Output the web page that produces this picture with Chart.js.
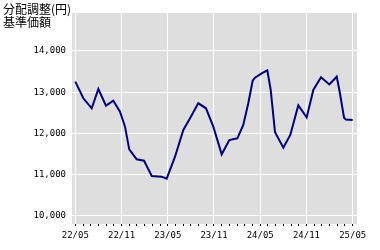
<!DOCTYPE html>
<html>
<head>
<meta charset="utf-8">
<script src="https://cdn.jsdelivr.net/npm/chart.js@4/dist/chart.umd.min.js"></script>
<style>
  body { margin: 0; background: #fff; }
  #wrap { position: relative; width: 380px; height: 250px; }
  #title {
    position: absolute; left: 3px; top: 2px;
    font: 12px/13px "Noto Sans CJK JP", sans-serif; color: #000;
  }
</style>
</head>
<body>
<div id="wrap">
  <canvas id="chart" width="380" height="250"></canvas>
  <div id="title">分配調整(円)<br>基準価額</div>
</div>
<script>
// months counted from 22/05
const months = [0, 1.04, 2.13, 2.99, 3.98, 4.93, 5.8, 6.45, 7.0, 7.97, 8.92, 9.92, 11.2, 11.86,
  12.94, 14.02, 14.89, 15.96, 16.96, 17.91, 19.0, 19.99, 21.03, 21.8, 22.45, 23.02, 23.32,
  24.19, 24.92, 25.36, 25.92, 27.0, 27.9, 28.94, 30.03, 30.89, 31.89, 32.97, 33.93, 34.27,
  34.88, 35.1, 36.0];
const navValues = [13256, 12853, 12611, 13079, 12674, 12796, 12529, 12165, 11616, 11374, 11341,
  10970, 10954, 10905, 11438, 12085, 12368, 12732, 12611, 12165, 11496, 11842, 11883, 12206,
  12732, 13280, 13353, 13459, 13530, 13055, 12030, 11656, 11964, 12680, 12390, 13055, 13362,
  13190, 13377, 13055, 12383, 12340, 12327];
const tickLabels = ['22/05', '22/11', '23/05', '23/11', '24/05', '24/11', '25/05'];
const yTicks = [10000, 11000, 12000, 13000, 14000];

const tickFont = { family: 'DejaVu Sans Mono', size: 9 };

// gray plot background
const plotBg = {
  id: 'plotBg',
  beforeDraw(chart) {
    const a = chart.chartArea, ctx = chart.ctx;
    ctx.save();
    ctx.fillStyle = '#dedede';
    ctx.fillRect(a.left, a.top, a.right - a.left, a.bottom - a.top);
    ctx.restore();
  }
};

new Chart(document.getElementById('chart'), {
  type: 'line',
  plugins: [plotBg],
  data: {
    datasets: [{
      data: months.map((m, i) => ({ x: m, y: navValues[i] })),
      borderColor: '#000080',
      borderWidth: 2,
      pointRadius: 0,
      tension: 0
    }]
  },
  options: {
    responsive: false,
    animation: false,
    devicePixelRatio: 1,
    layout: { padding: { left: 0, top: 13, right: 23, bottom: 0 } },
    plugins: { legend: { display: false }, tooltip: { enabled: false } },
    scales: {
      x: {
        type: 'linear',
        min: -0.43,
        max: 36.56,
        afterBuildTicks: s => { s.ticks = Array.from({ length: 37 }, (_, i) => ({ value: i })); },
        afterFit: s => { s.height = 26; },
        border: { display: false },
        grid: {
          color: c => (c.tick && c.tick.value % 6 === 0) ? '#ffffff' : 'rgba(0,0,0,0)',
          tickColor: '#000',
          tickLength: 2,
          lineWidth: 1
        },
        ticks: {
          autoSkip: false,
          maxRotation: 0,
          padding: 4,
          color: '#000',
          font: tickFont,
          callback: v => v % 6 === 0 ? tickLabels[v / 6] : ''
        }
      },
      y: {
        min: 9806,
        max: 14921,
        afterBuildTicks: s => { s.ticks = yTicks.map(v => ({ value: v })); },
        afterFit: s => { s.width = 72; },
        border: { display: false },
        grid: { color: '#ffffff', lineWidth: 1, drawTicks: false },
        ticks: {
          padding: 6,
          color: '#000',
          font: tickFont,
          callback: v => v.toLocaleString('en-US')
        }
      }
    }
  }
});
</script>
</body>
</html>
